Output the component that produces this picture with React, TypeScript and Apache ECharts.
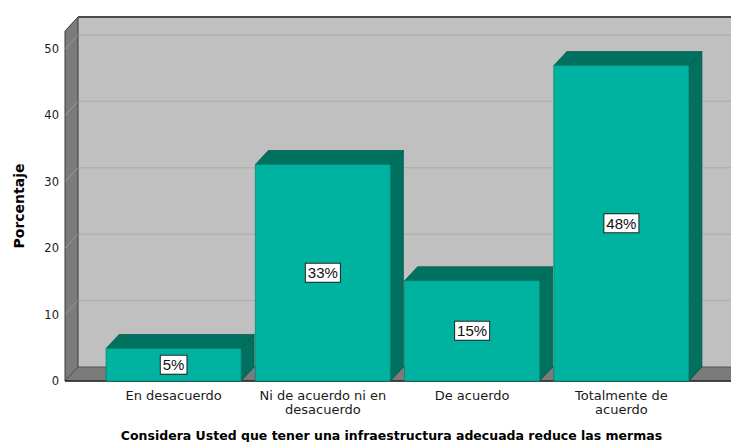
import React, { useEffect, useRef } from 'react';
import * as echarts from 'echarts';

const categories = ['En desacuerdo', 'Ni de acuerdo ni en\ndesacuerdo', 'De acuerdo', 'Totalmente de\nacuerdo'];
const percentages = [4.9, 32.6, 15.1, 47.5];
const barLabels = ['5%', '33%', '15%', '48%'];
const yTicks = [0, 10, 20, 30, 40, 50];
const yMax = 52.7;
const xTitle = 'Considera Usted que tener una infraestructura adecuada reduce las mermas';
const yTitle = 'Porcentaje';

const DX = 13;
const DY = -14;
const LEFT_EXTRA = 34;
const RIGHT_EXTRA = 35;

export default function App() {
  const ref = useRef<HTMLDivElement>(null);
  useEffect(() => {
    const chart = echarts.init(ref.current as HTMLDivElement, null, { renderer: 'svg' });
    const wallsRender = (params: any, api: any) => {
      const cs = params.coordSys;
      const xl = cs.x - LEFT_EXTRA;
      const xr = cs.x + cs.width + RIGHT_EXTRA + 20;
      const yb = api.coord([0, 0])[1];
      const yt = api.coord([0, yMax])[1];
      const children: any[] = [];
      children.push({ type: 'rect', shape: { x: xl + DX, y: yt + DY, width: xr - xl - DX, height: yb - yt }, style: { fill: '#c0c0c0' } });
      yTicks.forEach((v) => {
        if (v === 0) return;
        const y = api.coord([0, v])[1];
        children.push({ type: 'line', shape: { x1: xl + DX, y1: y + DY, x2: xr, y2: y + DY }, style: { stroke: '#b1b1b1', lineWidth: 1.5 } });
      });
      children.push({ type: 'polygon', shape: { points: [[xl, yt], [xl + DX, yt + DY], [xl + DX, yb + DY], [xl, yb]] }, style: { fill: '#7b7b7b', stroke: '#3a3a3a', lineWidth: 1 } });
      yTicks.forEach((v) => {
        if (v === 0) return;
        const y = api.coord([0, v])[1];
        children.push({ type: 'line', shape: { x1: xl, y1: y, x2: xl + DX, y2: y + DY }, style: { stroke: '#9a9a9a', lineWidth: 1 } });
      });
      children.push({ type: 'polygon', shape: { points: [[xl, yb], [xl + DX, yb + DY], [xr, yb + DY], [xr, yb]] }, style: { fill: '#7b7b7b', stroke: '#555555', lineWidth: 1 } });
      children.push({ type: 'line', shape: { x1: xl, y1: yb, x2: xr, y2: yb }, style: { stroke: '#2a2a2a', lineWidth: 1.5 } });
      children.push({ type: 'line', shape: { x1: xl + DX, y1: yt + DY, x2: xr, y2: yt + DY }, style: { stroke: '#4a4a4a', lineWidth: 2 } });
      return { type: 'group', children };
    };
    const barsRender = (params: any, api: any) => {
      const i = api.value(0);
      const v = api.value(1);
      const top = api.coord([i, v]);
      const cx = top[0];
      const yTop = top[1];
      const yBase = api.coord([i, 0])[1];
      const bw = api.size([1, 0])[0] * 0.905;
      const x1 = cx - bw / 2;
      const x2 = cx + bw / 2;
      return {
        type: 'group',
        children: [
          { type: 'polygon', shape: { points: [[x2, yTop], [x2 + DX, yTop + DY], [x2 + DX, yBase + DY], [x2, yBase]] }, style: { fill: '#00705f', stroke: '#00564a', lineWidth: 0.7 } },
          { type: 'polygon', shape: { points: [[x1, yTop], [x1 + DX, yTop + DY], [x2 + DX, yTop + DY], [x2, yTop]] }, style: { fill: '#00705f', stroke: '#00564a', lineWidth: 0.7 } },
          { type: 'rect', shape: { x: x1, y: yTop, width: bw, height: yBase - yTop }, style: { fill: '#00b3a0', stroke: '#00806f', lineWidth: 0.7 } },
          {
            type: 'text', x: cx, y: (yTop + yBase) / 2,
            style: {
              text: barLabels[i], fontFamily: 'Liberation Sans', fontSize: 15, fill: '#111',
              align: 'center', verticalAlign: 'middle', backgroundColor: '#ffffff',
              borderColor: '#222', borderWidth: 1, padding: [2, 2, 1, 2],
            },
          },
        ],
      };
    };
    const option: any = {
      animation: false,
      backgroundColor: '#ffffff',
      grid: { left: 99, right: 35, top: 31, bottom: 61, containLabel: false, outerBoundsMode: 'none' },
      xAxis: {
        type: 'category',
        data: categories,
        axisLine: { show: false },
        axisTick: { show: false },
        splitLine: { show: false },
        axisLabel: { fontFamily: 'DejaVu Sans', fontSize: 13, color: '#1a1a1a', lineHeight: 14, margin: 7, interval: 0 },
        name: xTitle,
        nameLocation: 'middle',
        nameGap: 48,
        nameTextStyle: { fontFamily: 'DejaVu Sans', fontWeight: 'bold', fontSize: 12.5, color: '#000', padding: [0, 12, 0, 0] },
      },
      yAxis: {
        type: 'value',
        min: 0,
        max: yMax,
        interval: 10,
        offset: LEFT_EXTRA,
        axisLine: { show: false },
        axisTick: { show: false },
        splitLine: { show: false },
        axisLabel: {
          fontFamily: 'DejaVu Sans', fontSize: 11.5, color: '#1a1a1a', margin: 6,
          formatter: (v: number) => (yTicks.indexOf(v) >= 0 ? String(v) : ''),
        },
        name: yTitle,
        nameLocation: 'middle',
        nameGap: 39,
        nameRotate: 90,
        nameTextStyle: { fontFamily: 'DejaVu Sans', fontWeight: 'bold', fontSize: 14, color: '#000' },
      },
      series: [
        { type: 'custom', data: [[0, 0]], renderItem: wallsRender, clip: false, silent: true, z: 1 },
        { type: 'custom', data: percentages.map((v, i) => [i, v]), encode: { x: 0, y: 1 }, renderItem: barsRender, clip: false, z: 2 },
      ],
    };
    chart.setOption(option);
    return () => chart.dispose();
  }, []);
  return <div ref={ref} style={{ position: 'absolute', left: 0, top: 0, width: 731, height: 442 }} />;
}
